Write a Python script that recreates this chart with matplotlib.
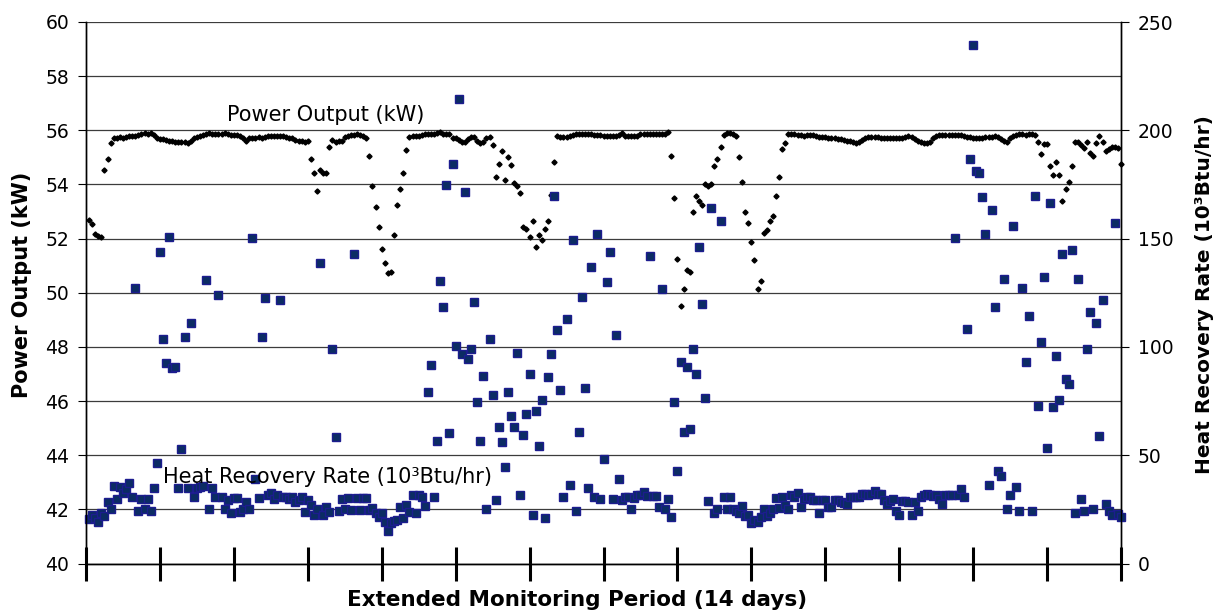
import matplotlib.pyplot as plt

# hourly readings over the 14 day monitoring period (one row per day)
power_kw = [
    52.68, 52.53, 52.16, 52.09, 52.07, 54.53, 54.93, 55.52, 55.70, 55.72, 55.75, 55.72, 55.76, 55.80, 55.80, 55.78, 55.82, 55.85, 55.89, 55.86, 55.89, 55.82, 55.72, 55.67,
    55.68, 55.64, 55.62, 55.60, 55.58, 55.58, 55.56, 55.55, 55.52, 55.60, 55.70, 55.76, 55.79, 55.82, 55.85, 55.89, 55.88, 55.86, 55.85, 55.88, 55.89, 55.86, 55.84, 55.82,
    55.82, 55.78, 55.70, 55.60, 55.70, 55.72, 55.72, 55.74, 55.72, 55.76, 55.79, 55.80, 55.80, 55.78, 55.80, 55.78, 55.74, 55.72, 55.70, 55.66, 55.62, 55.60, 55.58, 55.60,
    54.93, 54.43, 53.77, 54.53, 54.41, 54.43, 55.39, 55.66, 55.58, 55.62, 55.60, 55.75, 55.80, 55.82, 55.84, 55.85, 55.84, 55.80, 55.72, 55.06, 53.95, 53.18, 52.42, 51.61,
    51.11, 50.72, 50.78, 52.14, 53.24, 53.83, 54.41, 55.26, 55.75, 55.78, 55.80, 55.80, 55.84, 55.85, 55.86, 55.88, 55.86, 55.90, 55.92, 55.88, 55.86, 55.85, 55.70, 55.72,
    55.65, 55.55, 55.55, 55.68, 55.74, 55.74, 55.60, 55.54, 55.55, 55.70, 55.75, 55.45, 54.28, 54.75, 55.24, 54.15, 55.00, 54.73, 54.04, 53.95, 53.69, 52.42, 52.34, 52.07,
    52.66, 51.69, 52.13, 51.95, 52.34, 52.66, 53.62, 54.82, 55.79, 55.76, 55.74, 55.76, 55.79, 55.82, 55.85, 55.86, 55.86, 55.88, 55.86, 55.85, 55.84, 55.82, 55.82, 55.80,
    55.79, 55.79, 55.80, 55.79, 55.82, 55.89, 55.80, 55.79, 55.78, 55.79, 55.80, 55.85, 55.86, 55.87, 55.87, 55.87, 55.86, 55.87, 55.87, 55.88, 55.92, 55.06, 53.50, 51.23,
    49.52, 50.13, 50.83, 50.76, 52.98, 53.57, 53.39, 53.24, 54.01, 53.94, 54.01, 54.67, 54.93, 55.39, 55.83, 55.90, 55.90, 55.88, 55.80, 55.00, 54.09, 52.98, 52.59, 51.87,
    51.22, 50.13, 50.44, 52.19, 52.33, 52.65, 52.84, 53.56, 54.28, 55.32, 55.52, 55.85, 55.88, 55.86, 55.84, 55.82, 55.80, 55.82, 55.84, 55.83, 55.80, 55.75, 55.74, 55.74,
    55.72, 55.72, 55.70, 55.68, 55.68, 55.66, 55.62, 55.60, 55.56, 55.54, 55.58, 55.66, 55.70, 55.74, 55.76, 55.76, 55.75, 55.72, 55.70, 55.70, 55.70, 55.70, 55.72, 55.70,
    55.72, 55.76, 55.78, 55.74, 55.68, 55.62, 55.56, 55.54, 55.54, 55.58, 55.70, 55.80, 55.82, 55.83, 55.83, 55.83, 55.83, 55.82, 55.83, 55.82, 55.80, 55.76, 55.74, 55.72,
    55.72, 55.72, 55.72, 55.74, 55.74, 55.75, 55.79, 55.74, 55.68, 55.60, 55.58, 55.70, 55.78, 55.82, 55.85, 55.86, 55.84, 55.86, 55.85, 55.82, 55.58, 55.12, 55.48, 55.48,
    54.68, 54.35, 54.82, 54.35, 53.38, 53.82, 54.10, 54.68, 55.58, 55.58, 55.45, 55.33, 55.58, 55.15, 55.06, 55.52, 55.79, 55.58, 55.23, 55.30, 55.39, 55.39, 55.35, 54.74,
]

heat_rate = [
    20.4, 22.4, 21.0, 19.3, 23.2, 21.9, 28.5, 25.0, 35.8, 30.0, 35.5, 32.7, 34.3, 37.3, 30.5, 127.3, 24.4, 29.6, 25.0, 29.6, 24.4, 35.0, 46.3, 143.7,
    103.8, 92.4, 150.9, 90.1, 90.9, 35.0, 52.7, 104.7, 35.0, 111.2, 30.8, 35.0, 35.5, 35.8, 130.9, 25.0, 35.0, 30.8, 124.0, 30.8, 25.0, 29.3, 23.2, 30.1,
    30.1, 23.9, 25.0, 28.5, 25.0, 150.1, 38.9, 30.1, 104.6, 122.4, 31.6, 32.7, 30.0, 31.6, 121.7, 30.8, 30.8, 30.0, 30.8, 28.5, 29.5, 30.8, 23.9, 29.3,
    27.0, 22.4, 25.0, 138.9, 22.4, 25.9, 24.0, 98.9, 58.3, 24.4, 29.6, 25.0, 30.1, 24.7, 142.9, 30.1, 24.7, 30.1, 30.1, 24.7, 25.5, 23.2, 21.6, 23.2,
    19.3, 15.1, 18.6, 19.8, 20.1, 26.2, 20.9, 27.0, 23.9, 31.6, 23.5, 31.6, 30.8, 26.5, 79.3, 91.6, 30.8, 56.7, 130.6, 118.3, 174.6, 60.1, 184.3, 100.6,
    214.3, 96.7, 171.4, 94.3, 99.0, 120.9, 74.7, 56.7, 86.7, 25.0, 103.8, 77.8, 29.3, 63.2, 56.0, 44.4, 79.3, 68.2, 63.2, 97.3, 31.5, 59.3, 68.9, 87.5,
    22.4, 70.5, 54.2, 75.5, 20.9, 86.0, 96.6, 169.7, 107.8, 80.1, 30.8, 112.7, 36.2, 149.4, 24.2, 60.9, 123.2, 81.0, 34.7, 137.0, 30.8, 152.0, 29.8, 48.1,
    129.8, 143.7, 29.8, 105.5, 38.9, 29.3, 30.8, 30.8, 25.0, 30.1, 31.6, 31.6, 33.1, 31.0, 142.0, 31.2, 31.2, 25.9, 126.7, 25.0, 29.8, 21.6, 74.4, 42.8,
    93.2, 60.7, 90.9, 62.2, 98.9, 87.5, 146.1, 120.0, 76.3, 29.0, 164.0, 23.2, 25.0, 158.3, 30.8, 25.0, 30.8, 25.0, 24.4, 23.2, 26.5, 21.9, 22.4, 18.8,
    20.0, 19.3, 21.6, 25.0, 21.9, 23.5, 25.0, 30.1, 25.5, 30.8, 27.0, 25.0, 31.6, 30.8, 32.4, 25.9, 30.0, 30.8, 30.6, 29.3, 29.3, 23.2, 29.3, 29.3,
    26.2, 25.9, 29.3, 29.3, 28.5, 27.8, 27.5, 30.8, 30.8, 30.8, 30.8, 32.2, 32.2, 31.5, 32.2, 33.3, 32.2, 32.2, 29.5, 27.3, 29.0, 29.8, 24.1, 22.5,
    28.9, 29.0, 28.2, 22.5, 28.2, 24.1, 30.6, 31.5, 32.2, 31.4, 31.0, 31.4, 29.8, 27.3, 31.4, 31.4, 31.4, 150.5, 31.4, 34.6, 30.6, 108.4, 186.8, 239.3,
    181.2, 180.4, 169.0, 152.3, 36.2, 163.4, 118.2, 42.8, 40.4, 131.5, 25.0, 31.5, 156.0, 35.5, 24.2, 127.3, 93.2, 114.3, 24.2, 169.7, 72.9, 102.1, 132.3, 53.5,
    166.3, 72.1, 95.7, 75.5, 142.9, 85.2, 82.7, 144.6, 23.2, 131.5, 29.8, 24.2, 98.9, 116.0, 25.0, 111.2, 59.0, 121.7, 27.5, 24.2, 22.4, 157.3, 23.0, 21.5,
]

n_days = 14
power_hours = list(range(1, len(power_kw) + 1))
heat_hours = list(range(1, len(heat_rate) + 1))
day_ticks = list(range(0, n_days * 24 + 1, 24))

plt.rcParams['font.family'] = ['DejaVu Sans']

fig = plt.figure(figsize=(12.14, 6.13), dpi=100)
ax = fig.add_axes([86 / 1214, 49.5 / 613, 1035 / 1214, 541.5 / 613])
ax2 = ax.twinx()

ax.set_xlim(0, n_days * 24)
ax.set_ylim(40, 60)
ax.set_yticks(range(40, 61, 2))
ax.set_xticks(day_ticks)
ax.set_xticklabels([])
ax.grid(axis='y', color='#3c3c3c', lw=0.9)
ax.set_axisbelow(True)
ax.tick_params(axis='x', direction='inout', length=24, width=2.2, color='black')
ax.tick_params(axis='y', direction='out', length=6, width=0.8, labelsize=13.5, pad=6)

ax2.set_ylim(0, 250)
ax2.set_yticks(range(0, 251, 50))
ax2.tick_params(axis='y', direction='out', length=6, width=0.8, labelsize=13.5, pad=6)

for a in (ax, ax2):
    a.spines['top'].set_visible(False)
    for s in ('left', 'right', 'bottom'):
        a.spines[s].set_color('black')
        a.spines[s].set_linewidth(1.0)

ax.plot(power_hours, power_kw, ls='none', marker='D', ms=2.6, color='black', clip_on=False)
ax2.plot(heat_hours, heat_rate, ls='none', marker='s', ms=5.8, mfc='#0b2c63', mec='#1c1c8f', mew=1.0,
         clip_on=False)

ax2.text(45.7, 56.35, 'Power Output (kW)', transform=ax.transData, fontsize=15, va='baseline', zorder=5)
ax2.text(25.1, 42.96, 'Heat Recovery Rate (10³Btu/hr)', transform=ax.transData, fontsize=15,
         va='baseline', zorder=5)

ax.set_ylabel('Power Output (kW)', fontsize=15, fontweight='bold', va='center')
ax.yaxis.set_label_coords(-0.0618, 0.515)
ax2.set_ylabel('Heat Recovery Rate (10³Btu/hr)', fontsize=14.5, fontweight='bold', rotation=90, va='center')
ax2.yaxis.set_label_coords(1.081, 0.496)
ax.set_xlabel('Extended Monitoring Period (14 days)', fontsize=15.5, fontweight='bold', va='center')
ax.xaxis.set_label_coords(0.4744, -0.0674)

plt.savefig('out.png', dpi=100)
